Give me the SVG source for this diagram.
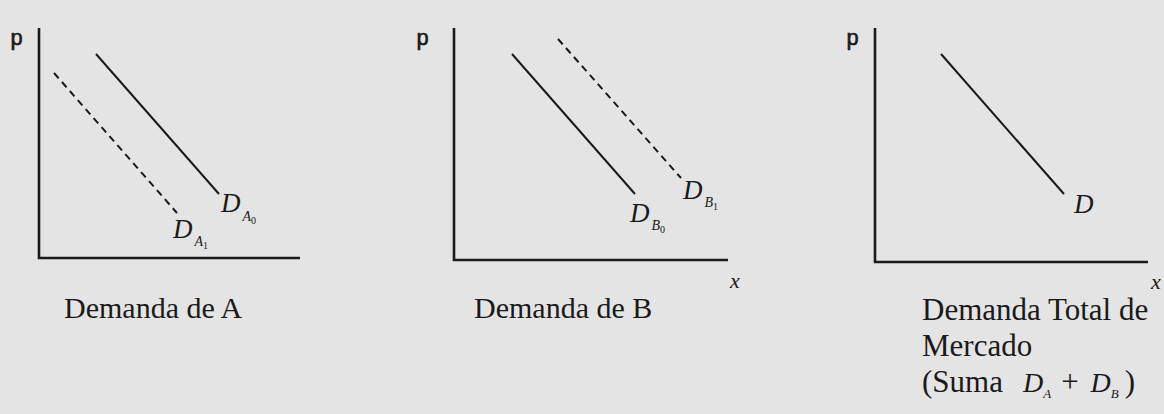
<svg xmlns="http://www.w3.org/2000/svg" width="1164" height="414" viewBox="0 0 1164 414">
<style>
.axis{stroke:#1a1a1a;stroke-width:2.6;fill:none}
.curve{stroke:#1a1a1a;stroke-width:2;fill:none}
.dash{stroke-dasharray:7 5}
.cap{font-family:"Liberation Serif","Times New Roman",serif;font-size:30px;fill:#1a1a1a}
.cap3{font-size:31px}
.lbl{font-family:"Liberation Serif","Times New Roman",serif;font-style:italic;font-size:27px;fill:#1a1a1a}
.sub{font-size:14px}
.dig{font-style:normal;font-size:10px}
.p{font-family:"Liberation Mono","Courier New",monospace;font-size:22px;fill:#1a1a1a;stroke:#1a1a1a;stroke-width:0.6}
</style>
<rect width="1164" height="414" fill="#e4e4e4"/>
<g id="panelA">
<path class="axis" d="M39,28 V258 H300"/>
<text class="p" x="10" y="45">p</text>
<g id="connectors-A">
<line class="curve" x1="96" y1="54" x2="219" y2="194"/>
<line class="curve dash" x1="54" y1="73" x2="177" y2="213"/>
</g>
<text class="lbl" x="221" y="212">D<tspan class="sub" dx="2" dy="9">A</tspan><tspan class="dig" dy="3">0</tspan></text>
<text class="lbl" x="173" y="238">D<tspan class="sub" dx="2" dy="8">A</tspan><tspan class="dig" dy="3">1</tspan></text>
<text class="cap" x="64" y="318">Demanda de A</text>
</g>
<g id="panelB">
<path class="axis" d="M454,28 V260 H728"/>
<text class="p" x="416" y="45">p</text>
<g id="connectors-B">
<line class="curve" x1="512" y1="54" x2="635" y2="194"/>
<line class="curve dash" x1="558" y1="39" x2="681" y2="178"/>
</g>
<text class="lbl" x="683" y="199">D<tspan class="sub" dx="2" dy="8">B</tspan><tspan class="dig" dy="3">1</tspan></text>
<text class="lbl" x="630" y="222">D<tspan class="sub" dx="2" dy="8">B</tspan><tspan class="dig" dy="3">0</tspan></text>
<text class="lbl" x="730" y="288" style="font-size:22px">x</text>
<text class="cap" x="474" y="318">Demanda de B</text>
</g>
<g id="panelC">
<path class="axis" d="M875,28 V262 H1148"/>
<text class="p" x="846" y="45">p</text>
<g id="connectors-C">
<line class="curve" x1="941" y1="54" x2="1064" y2="194"/>
</g>
<text class="lbl" x="1074" y="213">D</text>
<text class="lbl" x="1151" y="289" style="font-size:22px">x</text>
<text class="cap cap3" x="922" y="320">Demanda Total de</text>
<text class="cap cap3" x="922" y="356">Mercado</text>
<text class="cap cap3" x="922" y="392">(Suma<tspan dx="20" font-style="italic" font-size="28">D</tspan><tspan font-style="italic" font-size="13" dy="6">A</tspan><tspan dx="10" dy="-6">+</tspan><tspan dx="12" font-style="italic" font-size="28">D</tspan><tspan font-style="italic" font-size="13" dy="6">B</tspan><tspan dx="6" dy="-6">)</tspan></text>
</g>
</svg>
